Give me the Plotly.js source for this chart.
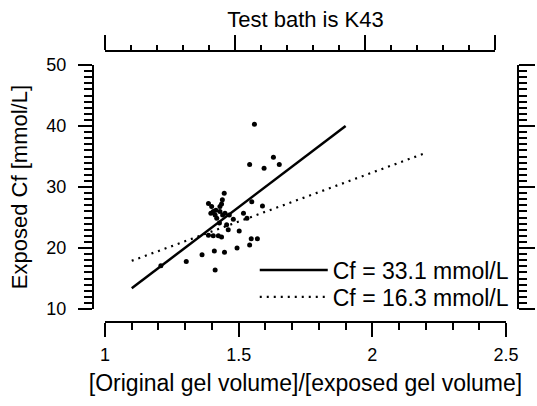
<!DOCTYPE html>
<html>
<head>
<meta charset="utf-8">
<script src="https://cdn.plot.ly/plotly-3.0.1.min.js"></script>
<style>html,body{margin:0;padding:0;background:#fff;}#chart{width:537px;height:406px;}</style>
</head>
<body>
<div id="chart"></div>
<script>
// Scatter data: [original gel volume]/[exposed gel volume] vs exposed Cf (mmol/L)
const ratioX = [1.559, 1.541, 1.630, 1.595, 1.652, 1.446, 1.589, 1.549, 1.502, 1.547,
                1.570, 1.541, 1.494, 1.447, 1.409, 1.363, 1.304, 1.412, 1.209, 1.439,
                1.436, 1.387, 1.399, 1.405, 1.415, 1.430, 1.412, 1.440, 1.418, 1.449,
                1.396, 1.430, 1.518, 1.531, 1.480, 1.465, 1.387, 1.405, 1.424, 1.436,
                1.428, 1.455, 1.461];
const cfY = [40.3, 33.7, 34.9, 33.1, 33.7, 29.0, 26.9, 27.6, 22.8, 21.5,
             21.5, 20.5, 20.0, 19.3, 19.5, 18.9, 17.8, 16.4, 17.1, 27.9,
             27.2, 27.3, 26.8, 26.0, 26.2, 26.0, 25.4, 25.4, 24.9, 25.7,
             25.7, 26.8, 25.7, 24.9, 24.7, 25.4, 22.1, 22.0, 22.0, 21.8,
             24.1, 23.8, 23.0];

// Fit lines
const fit1Name = 'Cf = 33.1 mmol/L';
const fit1X = [1.1, 1.9];
const fit1Y = [13.4, 40.0];
const fit2Name = 'Cf = 16.3 mmol/L';
const fit2X = [1.1, 2.2];
const fit2Y = [17.9, 35.6];

// Ticks
const xTickVals = [1, 1.5, 2, 2.5];
const xTickText = ['1', '1.5', '2', '2.5'];
const yTickVals = [10, 20, 30, 40, 50];
const yTickText = ['10', '20', '30', '40', '50'];
const topTickVals = [0, 1, 2, 3];

const titleText = 'Test bath is K43';
const xTitle = '[Original gel volume]/[exposed gel volume]';
const yTitle = 'Exposed Cf [mmol/L]';

const FONT = 'Liberation Sans, Arial, Helvetica, sans-serif';

const traces = [
  {x: [], y: [], xaxis: 'x2', yaxis: 'y', showlegend: false, type: 'scatter', mode: 'markers'},
  {x: [], y: [], xaxis: 'x', yaxis: 'y2', showlegend: false, type: 'scatter', mode: 'markers'},
  {x: ratioX, y: cfY, type: 'scatter', mode: 'markers', showlegend: false,
   marker: {color: '#000', size: 5}, hoverinfo: 'skip'},
  {x: fit1X, y: fit1Y, type: 'scatter', mode: 'lines', name: fit1Name, legend: 'legend',
   line: {color: '#000', width: 2.5}},
  {x: fit2X, y: fit2Y, type: 'scatter', mode: 'lines', name: fit2Name, legend: 'legend2',
   line: {color: '#000', width: 2.2, dash: '2px,5px'}}
];

const axisCommon = {
  showgrid: false, zeroline: false, showline: true, linecolor: '#000', linewidth: 2,
  ticks: 'outside', tickcolor: '#000', tickwidth: 2, ticklen: 14,
  tickfont: {family: FONT, size: 18, color: '#000'}
};

const legendCommon = {
  x: 0.99, xanchor: 'right', yanchor: 'middle',
  bgcolor: 'rgba(0,0,0,0)', borderwidth: 0, itemwidth: 68,
  font: {family: FONT, size: 23, color: '#000'}
};

const layout = {
  width: 537, height: 406,
  paper_bgcolor: '#fff', plot_bgcolor: 'rgba(0,0,0,0)',
  margin: {l: 93, r: 19, t: 51, b: 84, pad: 0},
  font: {family: FONT, color: '#000'},
  title: {text: titleText, font: {family: FONT, size: 22, color: '#000'},
          xref: 'paper', x: 0.5, xanchor: 'center',
          yref: 'container', y: 1 - 19 / 406, yanchor: 'middle'},
  xaxis: Object.assign({}, axisCommon, {
    domain: [0.0282, 0.9718], range: [1, 2.5], anchor: 'free', position: 0,
    tickmode: 'array', tickvals: xTickVals, ticktext: xTickText,
    ticklabelstandoff: 2,
    minor: {dtick: 0.1, ticks: 'outside', ticklen: 7, tickwidth: 2, tickcolor: '#000', showgrid: false},
    title: {text: xTitle, font: {family: FONT, size: 23, color: '#000'}, standoff: 10}
  }),
  yaxis: Object.assign({}, axisCommon, {
    domain: [0.048, 0.948], range: [10, 50], anchor: 'free', position: 0,
    tickmode: 'array', tickvals: yTickVals, ticktext: yTickText,
    ticklabelstandoff: 8,
    minor: {dtick: 1, ticks: 'outside', ticklen: 8, tickwidth: 2, tickcolor: '#000', showgrid: false},
    title: {text: yTitle, font: {family: FONT, size: 22, color: '#000'}, standoff: 12}
  }),
  xaxis2: Object.assign({}, axisCommon, {
    domain: [0.0282, 0.946], range: [0, 3], anchor: 'free', position: 1, side: 'top',
    tickmode: 'array', tickvals: topTickVals, showticklabels: false, ticklen: 15,
    minor: {dtick: 0.2, ticks: 'outside', ticklen: 5, tickwidth: 2, tickcolor: '#000', showgrid: false}
  }),
  yaxis2: Object.assign({}, axisCommon, {
    range: [10, 50], overlaying: 'y', anchor: 'free', position: 1, side: 'right',
    tickmode: 'array', tickvals: yTickVals, showticklabels: false, ticklen: 16,
    minor: {dtick: 1, ticks: 'outside', ticklen: 8, tickwidth: 2, tickcolor: '#000', showgrid: false}
  }),
  showlegend: true,
  legend: Object.assign({}, legendCommon, {y: (322 - 270) / 271}),
  legend2: Object.assign({}, legendCommon, {y: (322 - 297) / 271})
};

Plotly.newPlot('chart', traces, layout, {displayModeBar: false, staticPlot: true});
</script>
</body>
</html>
